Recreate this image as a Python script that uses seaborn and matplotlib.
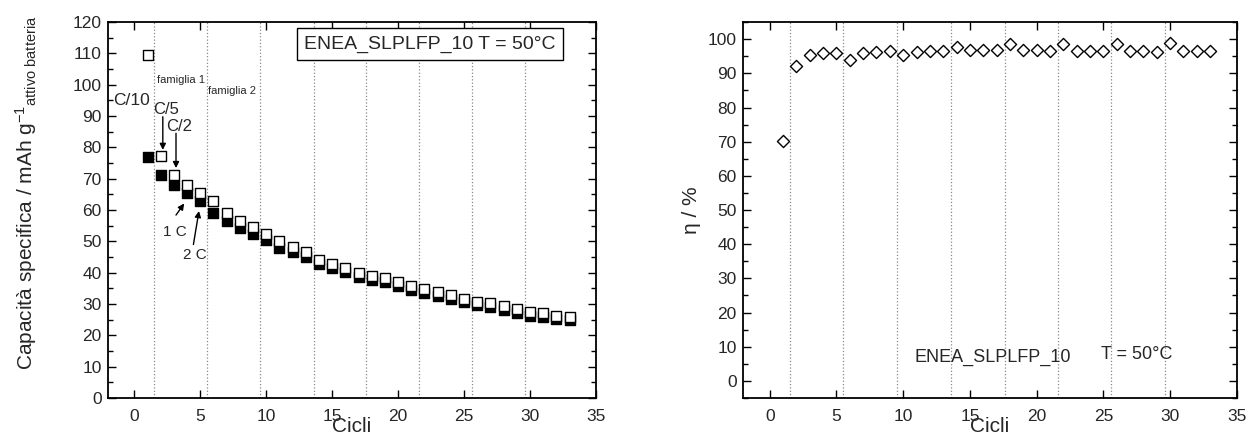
import pandas as pd
import matplotlib
matplotlib.use("Agg")
import matplotlib.pyplot as plt
import seaborn as sns

# cycle numbers
cycles = list(range(1, 34))

# specific capacity, open squares (charge) and filled squares (discharge), mAh/g
cap_open = [109.5, 77.3, 71.3, 68.0, 65.3, 62.8, 59.0, 56.5, 54.5, 52.5, 50.0,
            48.3, 46.7, 43.9, 42.8, 41.5, 39.8, 38.9, 38.2, 36.9, 35.7, 34.7,
            33.9, 32.8, 31.7, 30.7, 30.2, 29.4, 28.3, 27.4, 27.0, 26.3, 25.9]
cap_filled = [77.0, 71.3, 68.0, 65.5, 62.8, 59.0, 56.5, 54.3, 52.5, 50.3, 48.0,
              46.5, 45.0, 42.8, 41.6, 40.3, 38.7, 37.8, 37.0, 35.7, 34.5, 33.6,
              32.7, 31.6, 30.5, 29.6, 29.0, 28.2, 27.1, 26.3, 25.9, 25.2, 24.8]

# coulombic efficiency, %
eta = [70.1, 92.2, 95.3, 96.0, 96.0, 93.9, 96.0, 96.4, 96.5, 95.5, 96.2,
       96.6, 96.6, 97.8, 96.8, 96.8, 96.8, 98.5, 96.8, 96.8, 96.6, 98.5,
       96.5, 96.6, 96.5, 98.7, 96.6, 96.6, 96.3, 98.9, 96.5, 96.5, 96.5]

# rate-change markers (dotted vertical lines)
rate_steps = [1.5, 5.5, 9.5, 13.6, 17.6, 21.6, 25.6, 29.6]

df = pd.DataFrame({"Cicli": cycles, "open": cap_open, "filled": cap_filled, "eta": eta})

sns.set_style("ticks")
plt.rcParams["font.family"] = ["Liberation Sans", "DejaVu Sans"]
plt.rcParams["mathtext.fontset"] = "custom"
plt.rcParams["mathtext.rm"] = "Liberation Sans"
plt.rcParams["mathtext.it"] = "Liberation Sans:italic"

fig = plt.figure(figsize=(12.48, 4.34), dpi=100)
ax1 = fig.add_axes([0.0865, 0.083, 0.391, 0.866])
ax2 = fig.add_axes([0.5954, 0.083, 0.3956, 0.866])


def style_axis(ax, ylo, yhi):
    ax.set_xlim(-2, 35)
    ax.set_ylim(ylo, yhi)
    ax.set_xticks(range(0, 36, 5))
    ax.set_yticks(range(max(0, ylo), yhi + 1, 10))
    ax.set_yticks(range(max(0, ylo) + 5, yhi, 10), minor=True)
    ax.tick_params(which="both", direction="in", top=True, right=True,
                   labelsize=12.5, width=1, color="black")
    ax.tick_params(axis="x", pad=8)
    ax.tick_params(axis="y", pad=4.5)
    ax.tick_params(which="major", length=6)
    ax.tick_params(which="minor", length=3.5)
    for s in ax.spines.values():
        s.set_linewidth(1.3)
        s.set_color("black")
    for xv in rate_steps:
        ax.axvline(xv, color="#888888", ls=":", lw=0.9, zorder=0)
    ax.set_xlabel("Cicli", fontsize=15)
    ax.xaxis.set_label_coords(0.5, -0.05)
    ax.xaxis.label.set_va("top")


# left: specific capacity
sns.scatterplot(data=df, x="Cicli", y="filled", marker="s", s=45, color="black",
                edgecolor="black", linewidth=1, ax=ax1, zorder=2)
sns.scatterplot(data=df, x="Cicli", y="open", marker="s", s=45, color="white",
                edgecolor="black", linewidth=1, ax=ax1, zorder=3)
style_axis(ax1, 0, 120)
ax1.set_ylabel(r"Capacità specifica / mAh g$^{-1}{}_{\mathrm{attivo\ batteria}}$",
               fontsize=15, labelpad=24)
ax1.yaxis.label.set_y(0.545)

ax1.text(22.4, 113, "ENEA_SLPLFP_10 T = 50°C", fontsize=14, ha="center", va="center",
         bbox=dict(boxstyle="square,pad=0.38", fc="white", ec="black", lw=1))
ax1.text(-0.2, 95, "C/10", fontsize=12.5, ha="center", va="center")
ax1.text(3.55, 101.6, "famiglia 1", fontsize=8, ha="center", va="center")
ax1.text(7.4, 98, "famiglia 2", fontsize=8, ha="center", va="center")

# rate labels with arrows pointing to the relevant cycles
ax1.text(2.4, 92.2, "C/5", fontsize=12, ha="center", va="center")
ax1.text(3.4, 86.8, "C/2", fontsize=12, ha="center", va="center")
ax1.text(3.1, 53.0, "1 C", fontsize=11, ha="center", va="center")
ax1.text(4.6, 45.6, "2 C", fontsize=11, ha="center", va="center")
arrow = dict(arrowstyle="-|>", color="black", lw=1, mutation_scale=9,
             shrinkA=0, shrinkB=0)
ax1.annotate("", xy=(2.16, 79.2), xytext=(2.16, 89.8), arrowprops=arrow)
ax1.annotate("", xy=(3.16, 73.4), xytext=(3.16, 84.5), arrowprops=arrow)
ax1.annotate("", xy=(3.78, 62.1), xytext=(3.16, 58.4), arrowprops=arrow)
ax1.annotate("", xy=(4.9, 59.7), xytext=(4.48, 49.0), arrowprops=arrow)

# right: efficiency
sns.scatterplot(data=df, x="Cicli", y="eta", marker="D", s=38, color="white",
                edgecolor="black", linewidth=1, ax=ax2, zorder=3)
style_axis(ax2, -5, 105)
ax2.set_yticks(range(0, 101, 10))
ax2.set_yticks(range(-5, 106, 10), minor=True)
ax2.set_ylabel("η / %", fontsize=15, labelpad=5)
ax2.text(16.7, 6.8, "ENEA_SLPLFP_10", fontsize=13, ha="center", va="center")
ax2.text(27.5, 7.8, "T = 50°C", fontsize=13, ha="center", va="center")

fig.savefig("out.png", dpi=100)
